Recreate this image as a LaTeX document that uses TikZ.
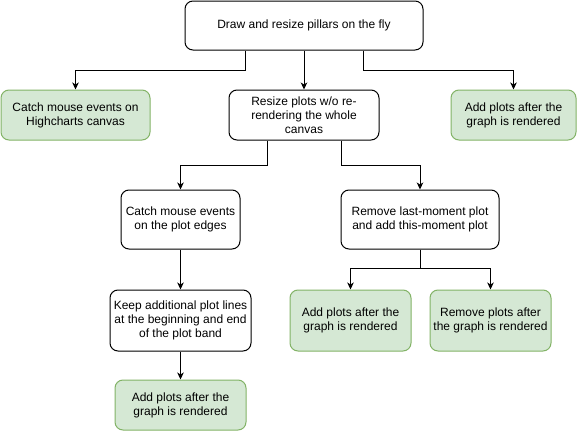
\documentclass[tikz,border=0pt]{standalone}
\usepackage{fontspec}
\setmainfont{Liberation Sans}
\usetikzlibrary{arrows.meta}
\definecolor{gfill}{HTML}{D5E8D4}
\definecolor{gline}{HTML}{82B366}

\begin{document}
\begin{tikzpicture}[x=1pt,y=-1pt,
  box/.style={draw=black,fill=white,line width=1pt,rounded corners=8pt,inner sep=0pt,align=center,
    font=\fontsize{12}{14}\selectfont},
  greenbox/.style={box,draw=gline,fill=gfill},
  arr/.style={line width=1pt,-{Stealth[length=7pt,width=6.5pt,inset=2pt]}}]

\useasboundingbox (0,0) rectangle (581,431);

\node[box,minimum width=238pt,minimum height=49pt] (pillars) at (304,25.5) {Draw and resize pillars on the fly};
\node[greenbox,minimum width=149pt,minimum height=50pt] (catchhc) at (75.5,115) {Catch mouse events on\\Highcharts canvas};
\node[box,minimum width=150pt,minimum height=50pt] (resize) at (304,115) {Resize plots w/o re-\\rendering the whole\\canvas};
\node[greenbox,minimum width=125pt,minimum height=50pt] (addtop) at (513.5,115) {Add plots after the\\graph is rendered};
\node[box,minimum width=119pt,minimum height=59pt] (catchpe) at (180.5,219.5) {Catch mouse events\\on the plot edges};
\node[box,minimum width=158pt,minimum height=59pt] (remlast) at (420,219.5) {Remove last-moment plot\\and add this-moment plot};
\node[box,minimum width=141pt,minimum height=61pt] (keep) at (180.5,320.5) {Keep additional plot lines\\at the beginning and end\\of the plot band};
\node[greenbox,minimum width=121pt,minimum height=61pt] (addmid) at (350.5,320.5) {Add plots after the\\graph is rendered};
\node[greenbox,minimum width=121pt,minimum height=61pt] (remplots) at (490.5,320.5) {Remove plots after\\the graph is rendered};
\node[greenbox,minimum width=131pt,minimum height=50pt] (addbot) at (180.5,405) {Add plots after the\\graph is rendered};

\draw[arr] ([xshift=-59pt]pillars.south) -- ++(0,20) -| (catchhc);
\draw[arr] (pillars) -- (resize);
\draw[arr] ([xshift=59pt]pillars.south) -- ++(0,20) -| (addtop);
\draw[arr] ([xshift=-37pt]resize.south) -- ++(0,25) -| (catchpe);
\draw[arr] ([xshift=37pt]resize.south) -- ++(0,25) -| (remlast);
\draw[arr] (remlast.south) -- ++(0,19) -| (addmid);
\draw[arr] (remlast.south) -- ++(0,19) -| (remplots);
\draw[arr] (catchpe) -- (keep);
\draw[arr] (keep) -- (addbot);
\end{tikzpicture}
\end{document}
